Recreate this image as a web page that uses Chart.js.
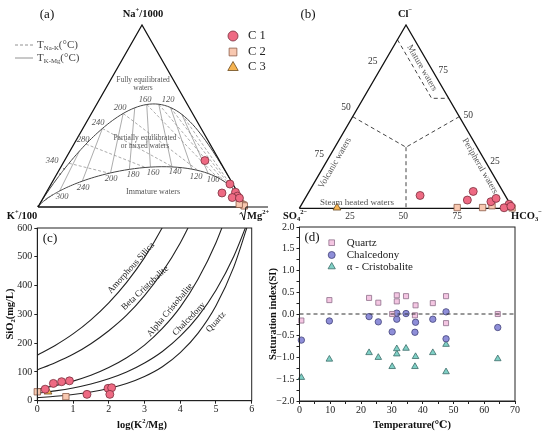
<!DOCTYPE html>
<html>
<head>
<meta charset="utf-8">
<script src="https://cdn.jsdelivr.net/npm/chart.js@4.4.0/dist/chart.umd.min.js"></script>
<style>
  body { margin: 0; background: #fff; }
  #wrap { position: relative; width: 550px; height: 437px; overflow: hidden; background: #fff; }
  canvas { position: absolute; }
</style>
</head>
<body>
<div id="wrap">
  <canvas id="ca" style="left:0;top:0" width="275" height="235"></canvas>
  <canvas id="cb" style="left:275px;top:0" width="275" height="235"></canvas>
  <canvas id="cc" style="left:0;top:215px" width="265" height="222"></canvas>
  <canvas id="cd" style="left:262px;top:215px" width="288" height="222"></canvas>
</div>
<script>
const SERIF = '"Liberation Serif", "DejaVu Serif", serif';
const H = Math.sqrt(3) / 2;

// (a) Na-K-Mg triangle, percent of Na/1000, K/100, sqrt(Mg)
const aC1Na = [25.5, 12.6, 7.7, 8.1, 6.0, 5.2, 4.9];
const aC1K  = [7.0, 1.4, 7.7, 1.0, 1.1, 4.0, 0.7];
const aC1Mg = [67.5, 86.0, 84.6, 90.9, 92.9, 90.8, 94.4];
const aC2Na = [2.0, 1.2, 0.6, 1.5];
const aC2K  = [1.5, 0.8, 0.5, 2.5];
const aC2Mg = [96.5, 98.0, 98.9, 96.0];
const aC3Na = [1.0];
const aC3K  = [1.5];
const aC3Mg = [97.5];
const naKTemps = [100, 120, 140, 160, 200, 240, 280, 340];
const kMgTemps = [100, 120, 140, 160, 180, 200, 240, 300];

// (b) Cl-SO4-HCO3 triangle, percent
const bC1Cl   = [7.0, 9.2, 4.5, 3.6, 5.4, 2.2, 0.3, 1.1];
const bC1SO4  = [39.9, 13.9, 19.0, 8.4, 5.1, 0.6, 3.9, 0.3];
const bC1HCO3 = [53.1, 76.9, 76.5, 88.0, 89.5, 97.2, 95.8, 98.6];
const bC2Cl   = [0.4, 0.4, 1.4, 0.2];
const bC2SO4  = [25.8, 13.9, 9.0, 0.2];
const bC2HCO3 = [73.8, 85.7, 89.6, 99.6];
const bC3Cl   = [0.3];
const bC3SO4  = [82.2];
const bC3HCO3 = [17.5];

// (c) SiO2 vs log(K2/Mg)
const cC1X = [0.22, 0.45, 0.68, 0.90, 1.39, 1.98, 2.08, 2.03];
const cC1Y = [40, 60, 66, 69, 22, 43, 45, 22];
const cC2X = [0.0, 0.80];
const cC2Y = [31, 14];
const cC3X = [0.30];
const cC3Y = [31];
const cLogK      = [0, 0.5, 1, 1.5, 2, 2.5, 3, 3.5, 4, 4.5, 5, 5.5, 6];
const cQuartz    = [10.8, 15.2, 21.4, 30.2, 42.5, 59.8, 84.1, 118, 167, 235, 330, 465, 654];
const cChalced   = [25.9, 34.0, 44.4, 58.2, 76.2, 99.7, 131, 171, 224, 293, 384, 502, 657];
const cAlphaCr   = [40.3, 52.3, 68.0, 88.2, 115, 149, 193, 251, 325, 423, 549, 712, null];
const cBetaCr    = [107, 132, 161, 198, 243, 297, 365, 447, 548, 672, null, null, null];
const cAmorph    = [158, 192, 232, 281, 340, 411, 497, 602, 729, null, null, null, null];
const cCurveNames = ['Amorphous Silica', 'Beta Cristobalite', 'Alpha Cristobalite', 'Chalcedony', 'Quartz'];

// (d) saturation index vs temperature
const dTemp   = [0.6, 9.7, 22.6, 25.6, 30.1, 31.6, 31.6, 34.6, 37.7, 37.5, 43.3, 47.6, 47.6, 64.4];
const dQuartz = [-0.15, 0.32, 0.37, 0.26, 0.00, 0.29, 0.43, 0.41, 0.20, -0.03, 0.25, 0.41, -0.21, 0.00];
const dChalc  = [-0.60, -0.16, -0.06, -0.18, -0.41, -0.12, 0.02, 0.01, -0.19, -0.42, -0.12, 0.05, -0.57, -0.31];
const dCrist  = [-1.46, -1.04, -0.89, -1.00, -1.21, -0.92, -0.80, -0.79, -0.98, -1.21, -0.89, -0.70, -1.33, -1.03];

const C1 = {fill: '#EE6A83', edge: '#7a2e3c'};
const C2 = {fill: '#F8C8B0', edge: '#8c5a48'};
const C3 = {fill: '#F5B351', edge: '#6b4a1e'};

// ternary -> x/y in a unit triangle (left corner 0,0 ; right 1,0 ; top 0.5,H)
function tern(top, left, right) {
  const s = top + left + right;
  return {x: (right + top / 2) / s, y: top / s * H};
}
function ternList(tops, lefts, rights) {
  return tops.map((t, i) => tern(t, lefts[i], rights[i]));
}

// Giggenbach geothermometers
function lkn(t) { return 1.75 - 1390 / (t + 273.15); }
function lkm(t) { return 14.0 - 4410 / (t + 273.15); }
function gig(lknV, lkmV) {
  return tern(Math.pow(10, -lknV) / 1000, 0.01, Math.pow(10, -lkmV / 2));
}

// text with super/subscripts
function rich(ctx, x, y, parts, o) {
  const size = o.size, wt = o.bold ? 'bold ' : '', st = o.italic ? 'italic ' : '';
  let total = 0;
  const info = parts.map(p => {
    const s = p[1] ? size * 0.62 : size;
    const f = st + wt + s + 'px ' + SERIF;
    ctx.font = f;
    const w = ctx.measureText(p[0]).width;
    total += w;
    return {f, w, dy: p[1] === 'sup' ? -size * 0.36 : p[1] === 'sub' ? size * 0.3 : 0};
  });
  ctx.save();
  ctx.translate(x, y);
  if (o.rot) ctx.rotate(o.rot * Math.PI / 180);
  let cx = o.align === 'left' ? 0 : o.align === 'right' ? -total : -total / 2;
  ctx.fillStyle = o.color || '#111';
  ctx.textAlign = 'left';
  ctx.textBaseline = 'middle';
  parts.forEach((p, i) => {
    ctx.font = info[i].f;
    ctx.fillText(p[0], cx, info[i].dy);
    cx += info[i].w;
  });
  ctx.restore();
}
function marker(ctx, style, r, fill, edge, x, y) {
  ctx.save();
  ctx.fillStyle = fill;
  ctx.strokeStyle = edge;
  ctx.lineWidth = 0.8;
  Chart.helpers.drawPoint(ctx, {pointStyle: style, radius: r, rotation: 0, borderWidth: 0.8}, x, y);
  ctx.restore();
}

function lineDs(pts, color, width, dash) {
  return {data: pts, showLine: true, pointRadius: 0, borderColor: color, borderWidth: width,
          borderDash: dash || [], fill: false, order: 2, clip: false};
}
function ptDs(pts, style, col, r) {
  return {data: pts, showLine: false, pointStyle: style, pointRadius: r, backgroundColor: col.fill,
          borderColor: col.edge, borderWidth: 0.8, order: 0, clip: false};
}
const baseOpts = {
  responsive: false, animation: false, events: [],
  plugins: {legend: {display: false}, tooltip: {enabled: false}}
};
function ternChart(id, pad, datasets, plugin) {
  return new Chart(document.getElementById(id), {
    type: 'scatter',
    data: {datasets},
    options: Object.assign({}, baseOpts, {
      layout: {padding: pad},
      scales: {x: {display: false, min: 0, max: 1}, y: {display: false, min: 0, max: H}}
    }),
    plugins: [plugin]
  });
}

// ---------------- (a) ----------------
const triangle = [tern(0, 1, 0), tern(0, 0, 1), tern(1, 0, 0), tern(0, 1, 0)];
const fullT = [];
for (let t = 0; t <= 400; t += 5) fullT.push(t);
[450, 500, 600, 700, 850, 1000, 1300, 1800, 3000, 10000].forEach(t => fullT.push(t));
const fullLine = fullT.map(t => gig(lkn(t), lkm(t)));
fullLine.push(tern(0, 1, 0));
const immLine = [tern(0, 0, 1)].concat(
  [-30, -20, -10].concat(fullT).map(t => gig(0.315 * lkm(t) - 2.0, lkm(t))));
immLine.push(tern(0, 1, 0));

const aSets = [
  ptDs(ternList(aC1Na, aC1K, aC1Mg), 'circle', C1, 4),
  ptDs(ternList(aC2Na, aC2K, aC2Mg), 'rect', C2, 4.5),
  ptDs(ternList(aC3Na, aC3K, aC3Mg), 'triangle', C3, 4.5),
  lineDs(triangle, '#111', 1.3),
  lineDs(fullLine, '#444', 1),
  lineDs(immLine, '#444', 1)
];
kMgTemps.forEach(t => {
  aSets.push(lineDs([gig(lkn(t), lkm(t)), gig(0.315 * lkm(t) - 2.0, lkm(t))], '#888', 0.7));
});
naKTemps.forEach(t => {
  const n = lkn(t);
  aSets.push(lineDs([gig(n, lkm(t)), gig(n, (n + 2.0) / 0.315)], '#888', 0.7, [3, 2]));
});

const aText = {
  id: 'aText',
  afterDraw(chart) {
    const ctx = chart.ctx;
    rich(ctx, 47, 15, [['(a)']], {size: 13});
    rich(ctx, 143, 14, [['Na'], ['+', 'sup'], ['/1000']], {size: 10.5, bold: true});
    rich(ctx, 22, 216, [['K'], ['+', 'sup'], ['/100']], {size: 10.5, bold: true});
    // sqrt(Mg2+)
    const bx = chart.scales.x.getPixelForValue(1), by = chart.scales.y.getPixelForValue(0);
    ctx.save();
    ctx.strokeStyle = '#111'; ctx.lineWidth = 1;
    ctx.beginPath();
    ctx.moveTo(239.5, 214); ctx.lineTo(241.5, 212.5); ctx.lineTo(244, 220); ctx.lineTo(bx, by); ctx.lineTo(268, by);
    ctx.stroke();
    ctx.restore();
    rich(ctx, 247, 216, [['Mg'], ['2+', 'sup']], {size: 10.5, bold: true, align: 'left'});

    // legend of temperature lines
    ctx.save();
    ctx.strokeStyle = '#777'; ctx.lineWidth = 0.8;
    ctx.setLineDash([3, 2]);
    ctx.beginPath(); ctx.moveTo(15, 45); ctx.lineTo(33, 45); ctx.stroke();
    ctx.setLineDash([]);
    ctx.beginPath(); ctx.moveTo(15, 58); ctx.lineTo(33, 58); ctx.stroke();
    ctx.restore();
    rich(ctx, 37, 45, [['T'], ['Na-K', 'sub'], ['(°C)']], {size: 11, align: 'left', color: '#444'});
    rich(ctx, 37, 58, [['T'], ['K-Mg', 'sub'], ['(°C)']], {size: 11, align: 'left', color: '#444'});

    // legend of groups
    marker(ctx, 'circle', 5, C1.fill, C1.edge, 233, 36);
    marker(ctx, 'rect', 5.5, C2.fill, C2.edge, 233, 52);
    marker(ctx, 'triangle', 6, C3.fill, C3.edge, 233, 67.5);
    rich(ctx, 248, 36, [['C 1']], {size: 12.5, align: 'left', color: '#222'});
    rich(ctx, 248, 52, [['C 2']], {size: 12.5, align: 'left', color: '#222'});
    rich(ctx, 248, 67, [['C 3']], {size: 12.5, align: 'left', color: '#222'});

    // region names
    const g = {size: 7.5, color: '#555'};
    rich(ctx, 143, 80, [['Fully equilibrated']], g);
    rich(ctx, 143, 88, [['waters']], g);
    rich(ctx, 145, 138, [['Partially equilibrated']], g);
    rich(ctx, 145, 146, [['or mixed waters']], g);
    rich(ctx, 153, 192, [['Immature waters']], {size: 8, color: '#555'});

    // temperature labels
    const it = {size: 8.5, italic: true, color: '#555'};
    [['340', 52, 161], ['280', 83, 140], ['240', 98, 123], ['200', 120, 108], ['160', 145, 100], ['120', 168, 100],
     ['300', 62, 197], ['240', 83, 188], ['200', 111, 179], ['180', 133, 175], ['160', 153, 173],
     ['140', 175, 172], ['120', 196, 177], ['100', 213, 180]]
      .forEach(l => rich(ctx, l[1], l[2], [[l[0]]], it));
  }
};
ternChart('ca', {left: 38, right: 29, top: 25, bottom: 28}, aSets, aText);

// ---------------- (b) ----------------
const bSets = [
  ptDs(ternList(bC1Cl, bC1SO4, bC1HCO3), 'circle', C1, 4),
  ptDs(ternList(bC2Cl, bC2SO4, bC2HCO3), 'rect', C2, 4.5),
  ptDs(ternList(bC3Cl, bC3SO4, bC3HCO3), 'triangle', C3, 4.5),
  lineDs(triangle, '#111', 1.3),
  lineDs([tern(92, 8, 0), tern(60, 8, 32), tern(60, 0, 40)], '#444', 1, [4, 3]),
  lineDs([tern(50, 50, 0), tern(1, 1, 1), tern(50, 0, 50)], '#444', 1, [4, 3]),
  lineDs([tern(1, 1, 1), tern(0, 50, 50)], '#444', 1, [4, 3])
];
const bText = {
  id: 'bText',
  afterDraw(chart) {
    const ctx = chart.ctx;
    rich(ctx, 33, 15, [['(b)']], {size: 13});
    rich(ctx, 130, 14, [['Cl'], ['−', 'sup']], {size: 10.5, bold: true});
    rich(ctx, 8, 216, [['SO'], ['4', 'sub'], ['2−', 'sup']], {size: 10.5, bold: true, align: 'left'});
    rich(ctx, 236, 216, [['HCO'], ['3', 'sub'], ['−', 'sup']], {size: 10.5, bold: true, align: 'left'});
    const tk = {size: 9.5, color: '#333'};
    [['25', 97.7, 61.7], ['50', 71, 107], ['75', 44.3, 154],
     ['75', 168.3, 70], ['50', 193.3, 115], ['25', 220, 161.7],
     ['25', 75, 216.7], ['50', 128.3, 216.7], ['75', 182.3, 216.7]]
      .forEach(l => rich(ctx, l[1], l[2], [[l[0]]], tk));
    const g = {size: 9, color: '#555'};
    rich(ctx, 147, 68, [['Mature waters']], Object.assign({rot: 60}, g));
    rich(ctx, 60, 163, [['Volcanic waters']], Object.assign({rot: -60}, g));
    rich(ctx, 205, 166, [['Peripheral waters']], Object.assign({rot: 60}, g));
    rich(ctx, 82, 202.5, [['Steam heated waters']], g);
  }
};
ternChart('cb', {left: 24.3, right: 37.3, top: 25, bottom: 26.7}, bSets, bText);

// ---------------- (c) ----------------
function xy(xs, ys) { return xs.map((x, i) => ({x, y: ys[i]})); }
function curveDs(vals) {
  const d = lineDs(xy(cLogK, vals), '#222', 1.1);
  d.cubicInterpolationMode = 'monotone';
  d.clip = 0;
  return d;
}
const tickFont = {family: SERIF, size: 10};
const frame = {
  id: 'frame',
  afterDatasetsDraw(chart) {
    const a = chart.chartArea, ctx = chart.ctx;
    ctx.save();
    ctx.strokeStyle = '#222'; ctx.lineWidth = 1;
    ctx.strokeRect(a.left, a.top, a.right - a.left, a.bottom - a.top);
    ctx.restore();
  }
};
const cText = {
  id: 'cText',
  afterDraw(chart) {
    const ctx = chart.ctx;
    rich(ctx, 50, 23.5, [['(c)']], {size: 13});
    rich(ctx, 10, 99, [['SiO'], ['2', 'sub'], ['(mg/L)']], {size: 10.5, bold: true, rot: -90});
    rich(ctx, 142, 210.5, [['log(K'], ['2', 'sup'], ['/Mg)']], {size: 10.5, bold: true});
    const lb = {size: 9, color: '#222'};
    [[131, 53, -48], [145, 73, -43], [170, 95, -50], [189, 104, -46], [216, 107, -48]]
      .forEach((p, i) => rich(ctx, p[0], p[1], [[cCurveNames[i]]], Object.assign({rot: p[2]}, lb)));
  }
};
new Chart(document.getElementById('cc'), {
  type: 'scatter',
  data: {datasets: [
    ptDs(xy(cC1X, cC1Y), 'circle', C1, 4),
    ptDs(xy(cC2X, cC2Y), 'rect', C2, 4.5),
    ptDs(xy(cC3X, cC3Y), 'triangle', C3, 4.5),
    curveDs(cAmorph), curveDs(cBetaCr), curveDs(cAlphaCr), curveDs(cChalced), curveDs(cQuartz)
  ]},
  options: Object.assign({}, baseOpts, {
    layout: {padding: {left: 0, right: 13.3, top: 13, bottom: 0}},
    scales: {
      x: {type: 'linear', min: 0, max: 6,
          ticks: {stepSize: 1, font: tickFont, color: '#222', padding: 0, maxRotation: 0, autoSkip: false},
          grid: {drawOnChartArea: false, drawTicks: true, tickLength: 3, color: '#222'},
          border: {color: '#222', width: 1},
          afterFit(s) { s.height = 36.3; }},
      y: {type: 'linear', min: 0, max: 600,
          ticks: {stepSize: 100, font: tickFont, color: '#222', padding: 2, autoSkip: false},
          grid: {drawOnChartArea: false, drawTicks: true, tickLength: 3, color: '#222'},
          border: {color: '#222', width: 1},
          afterFit(s) { s.width = 37.3; }}
    }
  }),
  plugins: [frame, cText]
});

// ---------------- (d) ----------------
const QZ = {fill: '#F4C6E2', edge: '#8e6f8a'};
const CH = {fill: '#8E8ED8', edge: '#44447a'};
const CR = {fill: '#7FD0C6', edge: '#3c6c68'};
const dText = {
  id: 'dText',
  afterDraw(chart) {
    const ctx = chart.ctx, y0 = chart.scales.y.getPixelForValue(0);
    const a = chart.chartArea;
    ctx.save();
    ctx.strokeStyle = '#333'; ctx.lineWidth = 1; ctx.setLineDash([4, 3]);
    ctx.beginPath(); ctx.moveTo(a.left, y0); ctx.lineTo(a.right, y0); ctx.stroke();
    ctx.restore();
    rich(ctx, 50, 22.5, [['(d)']], {size: 13});
    marker(ctx, 'rect', 4, QZ.fill, QZ.edge, 69.7, 27.7);
    marker(ctx, 'circle', 3.5, CH.fill, CH.edge, 69.7, 40);
    marker(ctx, 'triangle', 4.2, CR.fill, CR.edge, 69.7, 51.7);
    const lg = {size: 11, align: 'left', color: '#222'};
    rich(ctx, 84.7, 27.7, [['Quartz']], lg);
    rich(ctx, 84.7, 40, [['Chalcedony']], lg);
    rich(ctx, 84.7, 51.7, [['α - Cristobalite']], lg);
    rich(ctx, 150, 210, [['Temperature(℃)']], {size: 10.5, bold: true});
    rich(ctx, 11, 99, [['Saturation index(SI)']], {size: 10.5, bold: true, rot: -90});
  }
};
new Chart(document.getElementById('cd'), {
  type: 'scatter',
  data: {datasets: [
    ptDs(xy(dTemp, dQuartz), 'rect', QZ, 3.6),
    ptDs(xy(dTemp, dChalc), 'circle', CH, 3.2),
    ptDs(xy(dTemp, dCrist), 'triangle', CR, 3.8)
  ]},
  options: Object.assign({}, baseOpts, {
    layout: {padding: {left: 0, right: 35, top: 12, bottom: 0}},
    scales: {
      x: {type: 'linear', min: 0, max: 70,
          ticks: {stepSize: 5, font: tickFont, color: '#222', padding: 0, maxRotation: 0, autoSkip: false,
                  callback: v => (v % 10 === 0 ? String(v) : '')},
          grid: {drawOnChartArea: false, drawTicks: true, tickLength: 3, color: '#222'},
          border: {color: '#222', width: 1},
          afterFit(s) { s.height = 36; }},
      y: {type: 'linear', min: -2, max: 2,
          ticks: {stepSize: 0.25, font: tickFont, color: '#222', padding: 2, autoSkip: false,
                  callback: v => (Math.abs(v * 2 - Math.round(v * 2)) < 1e-6
                    ? (v < 0 ? '−' + Math.abs(v).toFixed(1) : v.toFixed(1)) : '')},
          grid: {drawOnChartArea: false, drawTicks: true, tickLength: 3, color: '#222'},
          border: {color: '#222', width: 1},
          afterFit(s) { s.width = 37.5; }}
    }
  }),
  plugins: [frame, dText]
});
</script>
</body>
</html>
